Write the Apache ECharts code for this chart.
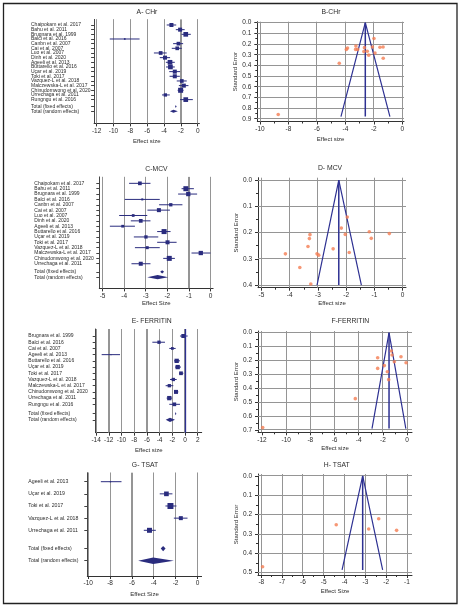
<!DOCTYPE html>
<html><head><meta charset="utf-8">
<script src="https://cdn.jsdelivr.net/npm/echarts@6/dist/echarts.min.js"></script>
<style>html,body{margin:0;padding:0;background:#fff}#c{width:465px;height:607px}</style>
</head><body><div id="c"></div><script>
// ===== A - CHr forest =====
const chrNames = ["Chaipokam et al. 2017","Bahu et al. 2011","Brugnara et al. 1999","Balci et al. 2016","Canbn et al. 2007","Cai et al. 2007","Luo et al. 2007","Dinh et al. 2020","Ageeli et al. 2013","Buttarello et al. 2016","Uçar et al. 2019","Toki et al. 2017","Vazquez-L et al. 2018","Malczewska-L et al. 2017","Chinudomwong et al. 2020","Urrechaga et al. 2011","Rungngu et al. 2016"];
const chrEst = [-3.12,-2.09,-1.42,-8.66,-2.29,-2.43,-4.40,-3.88,-3.29,-3.24,-2.72,-2.72,-1.89,-1.65,-2.03,-3.84,-1.42];
const chrLo  = [-3.68,-2.60,-1.93,-10.44,-2.92,-3.08,-5.20,-4.50,-3.78,-3.76,-3.38,-3.34,-2.49,-2.24,-2.38,-4.24,-2.09];
const chrHi  = [-2.55,-1.55,-0.82,-6.90,-1.73,-1.89,-3.68,-3.28,-2.72,-2.72,-2.09,-2.12,-1.30,-1.10,-1.68,-3.32,-0.58];
const chrWeight = [5.8,5.8,7.9,1.0,4.9,4.9,4.9,5.8,7.9,7.9,5.8,5.8,4.9,5.8,9.0,3.9,7.9];
const chrFixed = [-2.60,-2.68,-2.52];
const chrRandom = [-2.88,-3.30,-2.36];
const chrTicks = [-12,-10,-8,-6,-4,-2,0];
// ===== B - CHr funnel =====
const chrFunnelES = [-8.72,-4.43,-3.93,-3.85,-3.26,-3.28,-3.14,-2.66,-2.70,-2.46,-2.36,-1.99,-2.10,-1.92,-1.57,-1.35,-1.34];
const chrFunnelSE = [0.86,0.38,0.25,0.238,0.218,0.25,0.25,0.234,0.271,0.268,0.304,0.148,0.228,0.284,0.23,0.228,0.333];
const chrFunnelLines = {est:-2.60, seMax:0.88, lo:-4.31, hi:-0.87};
const chrFunnelXTicks = [-10,-8,-6,-4,-2,0];
const chrFunnelYTicks = [0,0.1,0.2,0.3,0.4,0.5,0.6,0.7,0.8,0.9];
// ===== C - MCV forest =====
const mcvNames = ["Chaipokam et al. 2017","Bahu et al. 2011","Brugnara et al. 1999","Balci et al. 2016","Canbn et al. 2007","Cai et al. 2007","Luo et al. 2007","Dinh et al. 2020","Ageeli et al. 2013","Buttarello et al. 2016","Uçar et al. 2019","Toki et al. 2017","Vazquez-L et al. 2018","Malczewska-L et al. 2017","Chinudomwong et al. 2020","Urrechaga et al. 2011"];
const mcvEst = [-3.27,-1.14,-1.03,-3.16,-1.84,-2.39,-3.58,-3.23,-4.07,-2.15,-2.99,-1.99,-2.93,-0.45,-1.91,-3.23];
const mcvLo  = [-3.77,-1.34,-1.50,-3.97,-2.38,-2.92,-4.23,-3.69,-4.66,-2.47,-3.55,-2.47,-3.50,-0.88,-2.19,-3.66];
const mcvHi  = [-2.78,-0.77,-0.62,-2.35,-1.30,-1.88,-2.93,-2.78,-3.50,-1.85,-2.42,-1.57,-2.35,0.00,-1.65,-2.78];
const mcvWeight = [5.8,10.6,7.8,1.7,4.6,6.8,3.1,5.8,3.1,10.6,4.6,6.8,3.8,7.8,10.6,6.8];
const mcvFixed = [-2.24,-2.33,-2.15];
const mcvRandom = [-2.45,-2.93,-1.96];
const mcvTicks = [-5,-4,-3,-2,-1,0];
// ===== D - MCV funnel =====
const mcvFunnelES = [-1.96,-2.17,-2.03,-3.28,-3.30,-3.35,-1.18,-1.11,-0.47,-2.46,-1.89,-4.15,-3.03,-2.97,-3.64,-3.25];
const mcvFunnelSE = [0.141,0.183,0.207,0.208,0.223,0.253,0.197,0.222,0.204,0.262,0.276,0.281,0.281,0.286,0.333,0.396];
const mcvFunnelLines = {est:-2.26, seMax:0.40, lo:-3.03, hi:-1.46};
const mcvFunnelXTicks = [-5,-4,-3,-2,-1,0];
const mcvFunnelYTicks = [0,0.1,0.2,0.3,0.4];
// ===== E - FERRITIN forest =====
const ferNames = ["Brugnara et al. 1999","Balci et al. 2016","Cai et al. 2007","Ageeli et al. 2013","Buttarello et al. 2016","Uçar et al. 2019","Toki et al. 2017","Vazquez-L et al. 2018","Malczewska-L et al. 2017","Chinudomwong et al. 2020","Urrechaga et al. 2011","Rungngu et al. 2016"];
const ferEst = [-0.26,-4.09,-1.99,-11.65,-1.31,-1.15,-0.63,-1.84,-2.47,-1.42,-2.47,-1.68];
const ferLo  = [-0.79,-5.14,-2.47,-13.12,-1.73,-1.57,-0.94,-2.36,-3.05,-1.73,-2.89,-2.47];
const ferHi  = [0.42,-3.15,-1.47,-10.23,-0.79,-0.63,-0.26,-1.31,-1.84,-1.05,-2.02,-0.79];
const ferWeight = [10.3,7.0,4.7,0.6,11.9,11.9,8.8,7.0,7.0,10.3,11.9,8.8];
const ferFixed = [-1.47,-1.57,-1.37];
const ferRandom = [-2.36,-3.04,-1.57];
const ferTicks = [-14,-12,-10,-8,-6,-4,-2,0,2];
// ===== F - FERRITIN funnel =====
const ferFunnelES = [-11.94,-4.28,-2.43,-2.43,-1.88,-1.63,-1.52,-1.30,-1.24,-1.05,-0.50,-0.08];
const ferFunnelSE = [0.683,0.475,0.18,0.257,0.237,0.281,0.338,0.132,0.161,0.209,0.173,0.216];
const ferFunnelLines = {est:-1.49, seMax:0.69, lo:-2.90, hi:-0.10};
const ferFunnelXTicks = [-12,-10,-8,-6,-4,-2,0];
const ferFunnelYTicks = [0,0.1,0.2,0.3,0.4,0.5,0.6,0.7];
// ===== G - TSAT forest =====
const tsatNames = ["Ageeli et al. 2013","Uçar et al. 2019","Toki et al. 2017","Vazquez-L et al. 2018","Urrechaga et al. 2011"];
const tsatEst = [-7.96,-2.84,-2.47,-1.52,-4.39];
const tsatLo  = [-8.84,-3.45,-2.93,-2.16,-4.91];
const tsatHi  = [-6.95,-2.29,-1.92,-0.91,-3.81];
const tsatWeight = [1.7,21.8,35.7,15.9,24.8];
const tsatFixed = [-3.14,-3.36,-2.92];
const tsatRandom = [-4.05,-5.43,-2.16];
const tsatTicks = [-10,-8,-6,-4,-2,0];
// ===== H - TSAT funnel =====
const tsatFunnelES = [-7.94,-4.40,-2.84,-2.36,-1.50];
const tsatFunnelSE = [0.469,0.252,0.274,0.221,0.281];
const tsatFunnelLines = {est:-3.13, seMax:0.486, lo:-4.12, hi:-2.17};
const tsatFunnelXTicks = [-8,-7,-6,-5,-4,-3,-2,-1];
const tsatFunnelYTicks = [0,0.1,0.2,0.3,0.4,0.5];

const totalLabels = ["Total (fixed effects)","Total (random effects)"];

// ===== styling / layout =====
const FONT = 'Liberation Sans, Arial, sans-serif';
const NAVY = '#2a2c7e';
const FNAVY = '#2e3192';
const ORANGE = '#f47d52';
const GRIDC = '#959595';
const TXT = '#2b2b2b';

const option = {animation:false, backgroundColor:'#fff', grid:[], xAxis:[], yAxis:[], series:[], graphic:[]};

function addTitle(text, x, y){
  option.graphic.push({type:'text', x:x, y:y, style:{text:text, x:0, y:0, align:'center', verticalAlign:'middle', fontSize:6.8, fontFamily:FONT, fill:TXT}});
}
function midpoints(t){ const m = []; for (let i = 0; i < t.length - 1; i++) m.push((t[i] + t[i+1]) / 2); return m; }
const crisp = v => Math.round(v - 0.5) + 0.5;

// grid lines drawn through the axes' own scales
function gridLineSeries(xi, yi, vals, dir, xr, yr){
  return {type:'custom', xAxisIndex:xi, yAxisIndex:yi, clip:false, silent:true, z:1,
    encode:{x:0, y:1}, data: vals.map(v => dir === 'v' ? [v, yr[0]] : [xr[0], v]),
    renderItem: (params, api) => {
      let a, b;
      if (dir === 'v') {
        a = api.coord([api.value(0), yr[0]]); b = api.coord([api.value(0), yr[1]]);
        const x = crisp(a[0]);
        return {type:'line', shape:{x1:x, y1:a[1], x2:x, y2:b[1]}, style:{stroke:GRIDC, lineWidth:1}};
      }
      a = api.coord([xr[0], api.value(1)]); b = api.coord([xr[1], api.value(1)]);
      const y = crisp(a[1]);
      return {type:'line', shape:{x1:a[0], y1:y, x2:b[0], y2:y}, style:{stroke:GRIDC, lineWidth:1}};
    }};
}

function addForest(c){
  const gi = option.grid.length;
  option.grid.push({left:c.rect[0], top:c.rect[1], width:c.rect[2], height:c.rect[3], containLabel:false, outerBoundsMode:'none'});
  const xi = option.xAxis.length, yi = option.yAxis.length;
  const n = c.names.length;
  const rows = c.names.map((_, i) => i).concat([n + 0.5, n + 1.5]);
  const labels = c.names.concat(totalLabels);
  option.xAxis.push({gridIndex:gi, type:'value', min:c.x[0], max:c.x[1], position:'bottom',
    axisLine:{show:true, onZero:false, lineStyle:{color:'#333', width:1}},
    axisTick:{show:true, customValues:c.ticks, length:3, lineStyle:{color:'#333'}},
    axisLabel:{customValues:c.ticks, fontSize:6.5, color:TXT, margin:4, fontFamily:FONT, hideOverlap:false, showMinLabel:true, showMaxLabel:true},
    splitLine:{show:true, lineStyle:{color:GRIDC, width:1}},
    name:c.xName, nameLocation:'middle', nameGap:c.nameGap, nameTextStyle:{fontSize:6, color:TXT, fontFamily:FONT}});
  // study labels split over two coincident y axes (alternate rows) so dense rows are all kept
  const labelFmt = v => { const i = rows.findIndex(r => Math.abs(r - v) < 1e-6); return i >= 0 ? labels[i] : ''; };
  [0, 1].forEach(par => {
    const sub = rows.filter((_, i) => i % 2 === par);
    option.yAxis.push({gridIndex:gi, type:'value', inverse:true, min:c.y[0], max:c.y[1], position:'left', offset:0,
      axisLine:{show:par === 0, onZero:false, lineStyle:{color:'#444', width:1}},
      axisTick:{show:true, customValues:sub, length:3, lineStyle:{color:'#444'}},
      axisLabel:{customValues:sub, align:'left', margin:c.rect[0]-c.labelX, fontSize:c.labelFont, color:TXT, fontFamily:FONT,
        hideOverlap:false, showMinLabel:true, showMaxLabel:true, formatter:labelFmt},
      splitLine:{show:false}});
  });
  option.series.push(gridLineSeries(xi, yi, c.ticks, 'v', c.x, c.y));
  if (c.zeroLine) {
    option.series.push({type:'scatter', xAxisIndex:xi, yAxisIndex:yi, data:[], silent:true, z:2,
      markLine:{silent:true, symbol:['none','none'], label:{show:false}, lineStyle:{color:FNAVY, width:1.3, type:'solid'}, data:[{xAxis:0}]}});
  }
  const k = c.sizeK;
  option.series.push({type:'custom', xAxisIndex:xi, yAxisIndex:yi, clip:false, z:3,
    encode:{x:[0,1,2], y:3},
    data: c.est.map((e, i) => [e, c.lo[i], c.hi[i], i, c.w[i]]),
    renderItem: (params, api) => {
      const y = api.value(3);
      const a = api.coord([api.value(1), y]);
      const b = api.coord([api.value(2), y]);
      const m = api.coord([api.value(0), y]);
      const s = k * Math.sqrt(api.value(4));
      return {type:'group', children:[
        {type:'line', shape:{x1:a[0], y1:a[1], x2:b[0], y2:b[1]}, style:{stroke:NAVY, lineWidth:1}},
        {type:'rect', shape:{x:m[0]-s/2, y:m[1]-s/2, width:s, height:s}, style:{fill:NAVY}}
      ]};
    }});
  const hs = [c.fixedH, c.randomH];
  option.series.push({type:'custom', xAxisIndex:xi, yAxisIndex:yi, clip:false, z:3,
    encode:{x:[0,1,2], y:3},
    data: [c.fixed, c.random].map((t, j) => [t[0], t[1], t[2], n + 0.5 + j, j]),
    renderItem: (params, api) => {
      const y = api.value(3);
      const h = hs[api.value(4)];
      const a = api.coord([api.value(1), y]);
      const b = api.coord([api.value(2), y]);
      const m = api.coord([api.value(0), y]);
      return {type:'polygon', shape:{points:[[a[0], m[1]], [m[0], m[1]-h], [b[0], m[1]], [m[0], m[1]+h]]}, style:{fill:NAVY}};
    }});
  addTitle(c.title, c.titleXY[0], c.titleXY[1]);
}

function addFunnel(c){
  const gi = option.grid.length;
  option.grid.push({left:c.rect[0], top:c.rect[1], width:c.rect[2], height:c.rect[3], containLabel:false, outerBoundsMode:'none'});
  const xi = option.xAxis.length, yi = option.yAxis.length;
  option.xAxis.push({gridIndex:gi, type:'value', min:c.x[0], max:c.x[1], position:'bottom',
    axisLine:{show:true, onZero:false, lineStyle:{color:'#333', width:1}},
    axisTick:{show:true, customValues:c.xTicks, length:3, lineStyle:{color:'#333'}},
    axisLabel:{customValues:c.xTicks, fontSize:6.5, color:TXT, margin:4, fontFamily:FONT, hideOverlap:false, showMinLabel:true, showMaxLabel:true},
    splitLine:{show:false},
    name:c.xName, nameLocation:'middle', nameGap:c.nameGap, nameTextStyle:{fontSize:6, color:TXT, fontFamily:FONT}});
  option.yAxis.push({gridIndex:gi, type:'value', inverse:true, min:c.y[0], max:c.y[1],
    axisLine:{show:true, onZero:false, lineStyle:{color:'#333', width:1}},
    axisTick:{show:true, customValues:c.yTicks, length:3, lineStyle:{color:'#333'}},
    axisLabel:{customValues:c.yTicks, fontSize:6.5, color:TXT, margin:6, fontFamily:FONT, hideOverlap:false, showMinLabel:true, showMaxLabel:true, formatter: v => v.toFixed(1)},
    splitLine:{show:false},
    name:'Standard Error', nameLocation:'middle', nameGap:c.yNameGap, nameTextStyle:{fontSize:6, color:TXT, fontFamily:FONT}});
  // minor ticks (extra tick-only axes on the same grid)
  option.xAxis.push({gridIndex:gi, type:'value', min:c.x[0], max:c.x[1], position:'bottom',
    axisLine:{show:false, onZero:false}, axisLabel:{show:false}, splitLine:{show:false},
    axisTick:{show:true, customValues:midpoints(c.xTicks), length:2, lineStyle:{color:'#333'}}});
  option.yAxis.push({gridIndex:gi, type:'value', inverse:true, min:c.y[0], max:c.y[1], position:'left',
    axisLine:{show:false, onZero:false}, axisLabel:{show:false}, splitLine:{show:false},
    axisTick:{show:true, customValues:midpoints(c.yTicks), length:2, lineStyle:{color:'#333'}}});
  option.series.push(gridLineSeries(xi, yi, c.xTicks, 'v', c.x, c.y));
  option.series.push(gridLineSeries(xi, yi, c.yTicks, 'h', c.x, c.y));
  const L = c.lines;
  option.series.push({type:'line', xAxisIndex:xi, yAxisIndex:yi, symbol:'none', clip:false, z:3,
    lineStyle:{color:FNAVY, width:1.2}, data:[[L.lo, L.seMax], [L.est, 0], [L.hi, L.seMax]]});
  option.series.push({type:'line', xAxisIndex:xi, yAxisIndex:yi, symbol:'none', clip:false, z:3,
    lineStyle:{color:FNAVY, width:1.5}, data:[[L.est, 0], [L.est, L.seMax]]});
  option.series.push({type:'scatter', xAxisIndex:xi, yAxisIndex:yi, symbol:'circle', symbolSize:3.6, clip:false, z:4,
    itemStyle:{color:ORANGE}, data:c.es.map((e, i) => [e, c.se[i]])});
  addTitle(c.title, c.titleXY[0], c.titleXY[1]);
}

addForest({names:chrNames, est:chrEst, lo:chrLo, hi:chrHi, w:chrWeight, fixed:chrFixed, random:chrRandom, ticks:chrTicks,
  rect:[94.1, 19.4, 105.3, 104.0], x:[-12.3, 0.2], y:[-1.2, 21.1], labelX:31, labelFont:5, sizeK:1.67, fixedH:1.5, randomH:1.6,
  xName:'Effect size', nameGap:14.5, title:'A- CHr', titleXY:[147, 12]});
addFunnel({es:chrFunnelES, se:chrFunnelSE, lines:chrFunnelLines, xTicks:chrFunnelXTicks, yTicks:chrFunnelYTicks,
  rect:[257.3, 21.7, 146.7, 99.8], x:[-10.19, 0.12], y:[-0.0094, 0.926], xName:'Effect size', nameGap:14.5, yNameGap:18,
  title:'B-CHr', titleXY:[331, 11.7]});
addForest({names:mcvNames, est:mcvEst, lo:mcvLo, hi:mcvHi, w:mcvWeight, fixed:mcvFixed, random:mcvRandom, ticks:mcvTicks,
  rect:[99.3, 176.9, 113.8, 111.5], x:[-5.15, 0.12], y:[-1.2, 19.6], labelX:34.3, labelFont:5, sizeK:1.54, fixedH:1.6, randomH:2.2,
  xName:'Effect Size', nameGap:12, title:'C-MCV', titleXY:[156.5, 169]});
addFunnel({es:mcvFunnelES, se:mcvFunnelSE, lines:mcvFunnelLines, xTicks:mcvFunnelXTicks, yTicks:mcvFunnelYTicks,
  rect:[258, 177.7, 148, 110], x:[-5.12, 0.12], y:[-0.009, 0.41], xName:'Effect size', nameGap:12.5, yNameGap:18,
  title:'D- MCV', titleXY:[330, 168.3]});
addForest({names:ferNames, est:ferEst, lo:ferLo, hi:ferHi, w:ferWeight, fixed:ferFixed, random:ferRandom, ticks:ferTicks,
  rect:[95.7, 329, 106, 103.7], x:[-14.06, 2.63], y:[-1.13, 15.57], labelX:28.3, labelFont:5, sizeK:1.25, fixedH:1.6, randomH:2.2,
  xName:'Effect size', nameGap:14.3, zeroLine:true, title:'E- FERRITIN', titleXY:[151.7, 321]});
addFunnel({es:ferFunnelES, se:ferFunnelSE, lines:ferFunnelLines, xTicks:ferFunnelXTicks, yTicks:ferFunnelYTicks,
  rect:[258, 331, 154, 101.3], x:[-12.33, 0.41], y:[-0.012, 0.717], xName:'Effect size', nameGap:13, yNameGap:18,
  title:'F-FERRITIN', titleXY:[350.3, 321]});
addForest({names:tsatNames, est:tsatEst, lo:tsatLo, hi:tsatHi, w:tsatWeight, fixed:tsatFixed, random:tsatRandom, ticks:tsatTicks,
  rect:[87.3, 472.7, 114.3, 103.3], x:[-10.08, 0.38], y:[-0.74, 7.76], labelX:28.3, labelFont:5.2, sizeK:1.0, fixedH:2.6, randomH:3.2,
  xName:'Effect Size', nameGap:15, title:'G- TSAT', titleXY:[145, 465]});
addFunnel({es:tsatFunnelES, se:tsatFunnelSE, lines:tsatFunnelLines, xTicks:tsatFunnelXTicks, yTicks:tsatFunnelYTicks,
  rect:[258, 474, 154, 101], x:[-8.16, -0.76], y:[-0.0103, 0.512], xName:'Effect Size', nameGap:13.7, yNameGap:18,
  title:'H- TSAT', titleXY:[336.7, 465]});

option.graphic.push({type:'rect', shape:{x:3.5, y:3.5, width:453.5, height:600}, style:{fill:'none', stroke:'#222', lineWidth:1.3}, z:100});

const chart = echarts.init(document.getElementById('c'), null, {renderer:'canvas'});
chart.setOption(option);
</script></body></html>
